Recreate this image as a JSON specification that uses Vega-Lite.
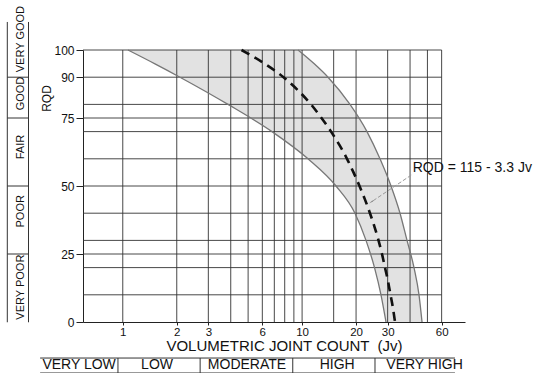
{
  "$schema": "https://vega.github.io/schema/vega-lite/v6.json",
  "width": 382,
  "height": 272,
  "autosize": {"type": "none"},
  "padding": {"left": 83, "top": 50, "right": 74, "bottom": 51},
  "background": "white",
  "config": {"view": {"stroke": null}, "font": "Liberation Sans"},
  "datasets": {
    "band": [
      {"rqd": 100, "lo": 1.069, "hi": 9.49},
      {"rqd": 95, "lo": 1.503, "hi": 11.65},
      {"rqd": 90, "lo": 2.084, "hi": 13.95},
      {"rqd": 80, "lo": 3.862, "hi": 18.5},
      {"rqd": 70, "lo": 6.795, "hi": 23.01},
      {"rqd": 60, "lo": 10.79, "hi": 27.19},
      {"rqd": 50, "lo": 15.46, "hi": 31.32},
      {"rqd": 40, "lo": 19.72, "hi": 35.16},
      {"rqd": 30, "lo": 22.72, "hi": 38.47},
      {"rqd": 20, "lo": 25.34, "hi": 42.09},
      {"rqd": 10, "lo": 27.54, "hi": 44.87},
      {"rqd": 0, "lo": 29.37, "hi": 46.65}
    ],
    "dash": [
      {"rqd": 100, "jv": 4.592},
      {"rqd": 95, "jv": 6.171},
      {"rqd": 90, "jv": 7.878},
      {"rqd": 85, "jv": 9.548},
      {"rqd": 80, "jv": 11.21},
      {"rqd": 75, "jv": 12.83},
      {"rqd": 70, "jv": 14.5},
      {"rqd": 65, "jv": 16.17},
      {"rqd": 60, "jv": 17.8},
      {"rqd": 55, "jv": 19.35},
      {"rqd": 50, "jv": 20.9},
      {"rqd": 45, "jv": 22.43},
      {"rqd": 40, "jv": 23.91},
      {"rqd": 35, "jv": 25.34},
      {"rqd": 30, "jv": 26.68},
      {"rqd": 25, "jv": 27.9},
      {"rqd": 20, "jv": 29.0},
      {"rqd": 15, "jv": 30.14},
      {"rqd": 10, "jv": 31.12},
      {"rqd": 5, "jv": 32.14},
      {"rqd": 0, "jv": 32.97}
    ],
    "vgrid": [
      {"jv": 1}, {"jv": 2}, {"jv": 3}, {"jv": 4}, {"jv": 5}, {"jv": 6}, {"jv": 7}, {"jv": 8}, {"jv": 9},
      {"jv": 10}, {"jv": 15}, {"jv": 20}, {"jv": 30}, {"jv": 40}, {"jv": 50}, {"jv": 60}
    ],
    "hgrid": [
      {"rqd": 10}, {"rqd": 20}, {"rqd": 25}, {"rqd": 30}, {"rqd": 40}, {"rqd": 50},
      {"rqd": 60}, {"rqd": 70}, {"rqd": 75}, {"rqd": 80}, {"rqd": 90}, {"rqd": 100}
    ],
    "segs": [
      {"x1": 0.227, "y1": -0.1, "x2": 0.227, "y2": 110.3},
      {"x1": 0.298, "y1": -0.1, "x2": 0.298, "y2": 110.3},
      {"x1": 0.227, "y1": 90, "x2": 0.298, "y2": 90},
      {"x1": 0.227, "y1": 75, "x2": 0.298, "y2": 75},
      {"x1": 0.227, "y1": 50, "x2": 0.298, "y2": 50},
      {"x1": 0.227, "y1": 25, "x2": 0.298, "y2": 25},
      {"x1": 0.346, "y1": -13.25, "x2": 71.2, "y2": -13.25},
      {"x1": 0.346, "y1": -18.75, "x2": 71.2, "y2": -18.75},
      {"x1": 0.94, "y1": -13.25, "x2": 0.94, "y2": -18.75},
      {"x1": 2.7, "y1": -13.25, "x2": 2.7, "y2": -18.75},
      {"x1": 8.87, "y1": -13.25, "x2": 8.87, "y2": -18.75},
      {"x1": 25.5, "y1": -13.25, "x2": 25.5, "y2": -18.75}
    ],
    "quality": [
      {"label": "VERY GOOD", "jv": 0.271, "rqd": 104},
      {"label": "GOOD", "jv": 0.271, "rqd": 84},
      {"label": "FAIR", "jv": 0.271, "rqd": 64.3},
      {"label": "POOR", "jv": 0.271, "rqd": 40.7},
      {"label": "VERY POOR", "jv": 0.271, "rqd": 12.8}
    ],
    "density": [
      {"label": "VERY LOW", "jv": 0.571, "rqd": -15.9},
      {"label": "LOW", "jv": 1.553, "rqd": -15.9},
      {"label": "MODERATE", "jv": 4.93, "rqd": -15.9},
      {"label": "HIGH", "jv": 15.7, "rqd": -15.9},
      {"label": "VERY HIGH", "jv": 48.2, "rqd": -15.9}
    ],
    "note": [
      {"label": "RQD = 115 - 3.3 Jv", "jv": 41.4, "rqd": 56.6, "jv2": 40.6, "rqd2": 54.0, "jva": 24.4, "rqda": 44.2}
    ]
  },
  "layer": [
    {
      "data": {"name": "band"},
      "mark": {"type": "area", "orient": "horizontal", "fill": "#e2e2e2", "interpolate": "monotone"},
      "encoding": {
        "y": {
          "field": "rqd", "type": "quantitative",
          "scale": {"domain": [0, 100], "nice": false, "zero": false},
          "axis": {
            "values": [0, 25, 50, 75, 90, 100], "grid": false,
            "domainColor": "#222", "tickColor": "#222", "tickSize": 7,
            "labelFontSize": 12, "labelColor": "#111", "labelPadding": 2,
            "title": "RQD", "titleFontSize": 12, "titleFontWeight": "normal", "titleColor": "#111",
            "titleX": -37, "titleY": 48, "titleAngle": 270, "titleAlign": "center", "titleBaseline": "middle"
          }
        },
        "x": {
          "field": "lo", "type": "quantitative",
          "scale": {"type": "log", "domain": [0.6, 81], "nice": false},
          "axis": {
            "values": [1, 2, 3, 6, 10, 20, 30, 60], "format": "d", "grid": false,
            "domainColor": "#222", "tickColor": "#222", "tickSize": 3,
            "labelFontSize": 11.5, "labelColor": "#111", "labelPadding": 1,
            "title": "VOLUMETRIC JOINT COUNT \u00a0(Jv)", "titleFontSize": 15, "titleFontWeight": "normal", "titleColor": "#111",
            "titleX": 201, "titleY": 23, "titleAlign": "center", "titleBaseline": "middle"
          }
        },
        "x2": {"field": "hi"}
      }
    },
    {
      "data": {"name": "vgrid"},
      "mark": {"type": "rule", "color": "#333", "strokeWidth": 0.9},
      "encoding": {"x": {"field": "jv", "type": "quantitative"}}
    },
    {
      "data": {"name": "hgrid"},
      "mark": {"type": "rule", "color": "#333", "strokeWidth": 0.9},
      "encoding": {
        "y": {"field": "rqd", "type": "quantitative"},
        "x": {"datum": 0.6},
        "x2": {"datum": 60}
      }
    },
    {
      "data": {"name": "band"},
      "mark": {"type": "line", "color": "#777", "strokeWidth": 1.3, "interpolate": "monotone"},
      "encoding": {
        "x": {"field": "lo", "type": "quantitative"},
        "y": {"field": "rqd", "type": "quantitative"},
        "order": {"field": "rqd"}
      }
    },
    {
      "data": {"name": "band"},
      "mark": {"type": "line", "color": "#777", "strokeWidth": 1.3, "interpolate": "monotone"},
      "encoding": {
        "x": {"field": "hi", "type": "quantitative"},
        "y": {"field": "rqd", "type": "quantitative"},
        "order": {"field": "rqd"}
      }
    },
    {
      "data": {"name": "dash"},
      "mark": {"type": "line", "color": "#111", "strokeWidth": 2.6, "strokeDash": [9, 6], "interpolate": "monotone"},
      "encoding": {
        "x": {"field": "jv", "type": "quantitative"},
        "y": {"field": "rqd", "type": "quantitative"},
        "order": {"field": "rqd", "sort": "descending"}
      }
    },
    {
      "data": {"name": "segs"},
      "mark": {"type": "rule", "color": "#333", "strokeWidth": 1},
      "encoding": {
        "x": {"field": "x1", "type": "quantitative"},
        "y": {"field": "y1", "type": "quantitative"},
        "x2": {"field": "x2"},
        "y2": {"field": "y2"}
      }
    },
    {
      "data": {"name": "quality"},
      "mark": {"type": "text", "angle": 270, "fontSize": 11, "color": "#111", "align": "center", "baseline": "middle"},
      "encoding": {
        "x": {"field": "jv", "type": "quantitative"},
        "y": {"field": "rqd", "type": "quantitative"},
        "text": {"field": "label"}
      }
    },
    {
      "data": {"name": "density"},
      "mark": {"type": "text", "fontSize": 14, "color": "#111", "align": "center", "baseline": "middle"},
      "encoding": {
        "x": {"field": "jv", "type": "quantitative"},
        "y": {"field": "rqd", "type": "quantitative"},
        "text": {"field": "label"}
      }
    },
    {
      "data": {"name": "note"},
      "mark": {"type": "rule", "color": "#999", "strokeWidth": 1, "strokeDash": [4, 2]},
      "encoding": {
        "x": {"field": "jv2", "type": "quantitative"},
        "y": {"field": "rqd2", "type": "quantitative"},
        "x2": {"field": "jva"},
        "y2": {"field": "rqda"}
      }
    },
    {
      "data": {"name": "note"},
      "mark": {"type": "point", "shape": "wedge", "angle": 236, "size": 30, "filled": true, "color": "#888", "opacity": 1},
      "encoding": {
        "x": {"field": "jva", "type": "quantitative"},
        "y": {"field": "rqda", "type": "quantitative"}
      }
    },
    {
      "data": {"name": "note"},
      "mark": {"type": "text", "fontSize": 14, "color": "#111", "align": "left", "baseline": "middle"},
      "encoding": {
        "x": {"field": "jv", "type": "quantitative"},
        "y": {"field": "rqd", "type": "quantitative"},
        "text": {"field": "label"}
      }
    }
  ]
}
